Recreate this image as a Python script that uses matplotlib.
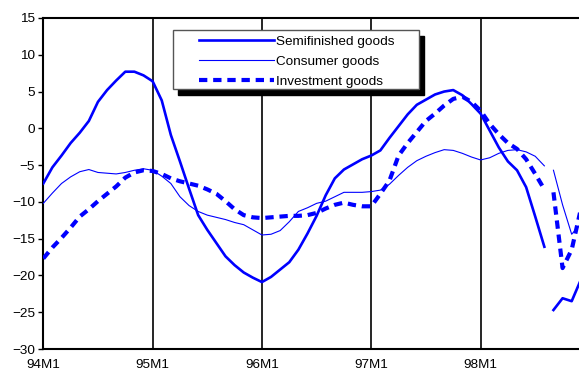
import matplotlib
matplotlib.use('Agg')
import matplotlib.pyplot as plt
from matplotlib.patches import Rectangle
from matplotlib.lines import Line2D

plt.rcParams['font.family'] = ['Liberation Sans', 'DejaVu Sans']

# ---- data (months since 94M1) ----
months_a = list(range(0, 56))
months_b = list(range(56, 60))

semi_a = [-7.5, -5.3, -3.7, -2.0, -0.6, 1.0, 3.6, 5.2, 6.5, 7.7, 7.7, 7.2,
          6.4, 3.8, -0.9, -4.5, -8.2, -11.8, -13.8, -15.6, -17.4, -18.6, -19.6, -20.3,
          -20.9, -20.2, -19.2, -18.2, -16.5, -14.3, -11.9, -9.1, -6.8, -5.6, -4.9, -4.2,
          -3.7, -3.0, -1.3, 0.3, 1.9, 3.2, 3.9, 4.6, 5.0, 5.2, 4.5, 3.3,
          2.0, -0.3, -2.6, -4.5, -5.7, -8.0, -12.0, -16.1]
semi_b = [-24.7, -23.1, -23.5, -20.6]

cons_a = [-10.2, -8.8, -7.5, -6.6, -5.9, -5.6, -6.0, -6.1, -6.2, -6.0, -5.7, -5.5,
          -5.7, -6.5, -7.5, -9.3, -10.5, -11.3, -11.8, -12.1, -12.4, -12.8, -13.1, -13.8,
          -14.5, -14.4, -13.9, -12.7, -11.3, -10.8, -10.2, -9.9, -9.3, -8.7, -8.7, -8.7,
          -8.6, -8.4, -7.6, -6.4, -5.3, -4.4, -3.8, -3.3, -2.9, -3.0, -3.4, -3.9,
          -4.3, -4.0, -3.4, -3.0, -2.9, -3.2, -3.8, -5.1]
cons_b = [-5.7, -10.4, -14.4, -13.0]

inv_a = [-17.7, -16.2, -14.9, -13.5, -12.0, -11.0, -9.9, -8.9, -7.9, -6.7, -6.0, -5.7,
         -5.8, -6.2, -6.8, -7.2, -7.5, -7.8, -8.3, -8.9, -9.9, -11.0, -11.8, -12.1,
         -12.2, -12.1, -12.0, -11.9, -11.9, -11.8, -11.5, -10.9, -10.4, -10.1, -10.4, -10.6,
         -10.6, -8.9, -7.1, -3.7, -2.0, -0.5, 1.0, 2.0, 3.1, 4.0, 4.3, 3.6,
         2.4, 0.6, -0.8, -2.0, -2.8, -4.2, -6.2, -8.3]
inv_b = [-8.7, -19.0, -16.5, -11.0]

tick_pos = [0, 12, 24, 36, 48]
tick_labels = ['94M1', '95M1', '96M1', '97M1', '98M1']
y_ticks = [-30, -25, -20, -15, -10, -5, 0, 5, 10, 15]

series_names = ['Semifinished goods', 'Consumer goods', 'Investment goods']

# ---- figure ----
W, H = 579, 374
FS = 9.7
fig = plt.figure(figsize=(W / 100, H / 100), dpi=100)
x0, xr, ytop, ybot = 43.3, 579.0, 18.0, 349.0
ax = fig.add_axes([x0 / W, 1 - ybot / H, (xr - x0) / W, (ybot - ytop) / H])
ax.set_xlim(0, (xr - x0) / 9.11)
ax.set_ylim(-30, 15)

for s in ['left', 'bottom', 'top']:
    ax.spines[s].set_linewidth(1.5)
    ax.spines[s].set_color('black')
ax.spines['right'].set_visible(False)

for p in tick_pos[1:]:
    ax.axvline(p, color='black', lw=1.2, zorder=1)

blue = '#0000FF'
ax.plot(months_a, semi_a, color=blue, lw=1.9, zorder=3, solid_joinstyle='round')
ax.plot(months_b, semi_b, color=blue, lw=1.9, zorder=3, solid_joinstyle='round')
ax.plot(months_a, cons_a, color=blue, lw=0.8, zorder=3)
ax.plot(months_b, cons_b, color=blue, lw=0.8, zorder=3)
ax.plot(months_a, inv_a, color=blue, lw=3.0, dashes=(2.0, 1.4), zorder=3)
ax.plot(months_b, inv_b, color=blue, lw=3.0, dashes=(2.0, 1.4), zorder=3)

ax.set_xticks(tick_pos)
ax.set_xticklabels(tick_labels)
ax.set_yticks(y_ticks)
ax.tick_params(axis='x', length=0, pad=7.5, labelsize=FS, colors='black')
ax.tick_params(axis='y', direction='out', length=3.5, width=1, pad=2.5, labelsize=FS, colors='black')

# ---- legend box with black shadow ----
bx0, bx1, by0, by1 = 173.3, 419.3, 30.0, 88.5
fig.patches.append(Rectangle(((bx0 + 5) / W, 1 - (by1 + 6) / H), (bx1 - bx0) / W, (by1 - by0) / H,
                             transform=fig.transFigure, facecolor='black', edgecolor='black', zorder=5))
fig.patches.append(Rectangle((bx0 / W, 1 - by1 / H), (bx1 - bx0) / W, (by1 - by0) / H,
                             transform=fig.transFigure, facecolor='white', edgecolor='#555555',
                             lw=1.0, zorder=6))
handles = [Line2D([], [], color=blue, lw=1.9),
           Line2D([], [], color=blue, lw=0.8),
           Line2D([], [], color=blue, lw=3.0, dashes=(2.0, 1.4))]
leg = fig.legend(handles, series_names, loc='upper left',
                 bbox_to_anchor=(199 / W, 1 - 35.5 / H), bbox_transform=fig.transFigure,
                 frameon=False, fontsize=FS, handlelength=5.6, handletextpad=0.12,
                 labelspacing=0.56, borderpad=0, borderaxespad=0)
leg.set_zorder(7)

fig.savefig('out.png', dpi=100)
